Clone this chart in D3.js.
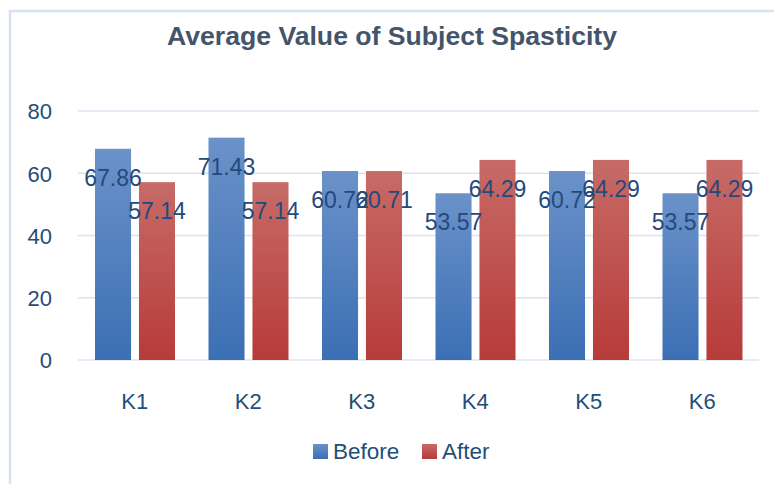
<!DOCTYPE html>
<html>
<head>
<meta charset="utf-8">
<script src="https://cdn.jsdelivr.net/npm/d3@7"></script>
<style>
  body { margin: 0; background: #fff; }
</style>
</head>
<body>
<script>
// DATA
var categories = ["K1", "K2", "K3", "K4", "K5", "K6"];
var seriesNames = ["Before", "After"];
var beforeValues = [67.86, 71.43, 60.72, 53.57, 60.72, 53.57];
var afterValues = [57.14, 57.14, 60.71, 64.29, 64.29, 64.29];
var yTicks = [0, 20, 40, 60, 80];

var svg = d3.select("body").append("svg")
  .attr("width", 774)
  .attr("height", 484);

// gradients for the bars
var defs = svg.append("defs");
var gradBlue = defs.append("linearGradient")
  .attr("id", "gradBlue")
  .attr("x1", 0).attr("y1", 0).attr("x2", 0).attr("y2", 1);
gradBlue.append("stop").attr("offset", "0%").attr("stop-color", "#6b92c9");
gradBlue.append("stop").attr("offset", "100%").attr("stop-color", "#3b6fb4");
var gradRed = defs.append("linearGradient")
  .attr("id", "gradRed")
  .attr("x1", 0).attr("y1", 0).attr("x2", 0).attr("y2", 1);
gradRed.append("stop").attr("offset", "0%").attr("stop-color", "#c76b67");
gradRed.append("stop").attr("offset", "100%").attr("stop-color", "#b73b39");
var fills = ["url(#gradBlue)", "url(#gradRed)"];

// chart frame
svg.append("rect")
  .attr("x", 10)
  .attr("y", 11)
  .attr("width", 800)
  .attr("height", 500)
  .attr("fill", "none")
  .attr("stroke", "#d6e2f2")
  .attr("stroke-width", 2.5);

// title
svg.append("text")
  .attr("x", 392)
  .attr("y", 45)
  .attr("text-anchor", "middle")
  .attr("textLength", 450)
  .attr("lengthAdjust", "spacingAndGlyphs")
  .style("font-family", "Liberation Sans")
  .style("font-size", "26px")
  .style("font-weight", 700)
  .style("fill", "#44546a")
  .text("Average Value of Subject Spasticity");

// scales
var x = d3.scaleBand()
  .domain(categories)
  .range([78, 759]);
var inner = d3.scaleBand()
  .domain(seriesNames)
  .range([17, 97])
  .paddingInner(0.18);
var y = d3.scaleLinear()
  .domain([0, 80])
  .range([360, 111]);

// gridlines
svg.append("g")
  .selectAll("line")
  .data(yTicks)
  .enter().append("line")
  .attr("x1", 78)
  .attr("x2", 759)
  .attr("y1", function(d) { return y(d); })
  .attr("y2", function(d) { return y(d); })
  .attr("stroke", "#d9e4f3")
  .attr("stroke-width", 1.5);

// y axis
var yAxis = svg.append("g")
  .attr("transform", "translate(52,0)")
  .call(d3.axisLeft(y).tickValues(yTicks).tickSize(0).tickPadding(0));
yAxis.select(".domain").remove();
yAxis.selectAll("text")
  .attr("dy", "0.36em")
  .style("font-family", "Liberation Sans")
  .style("font-size", "22px")
  .style("fill", "#1f4e79");

// x axis
var xAxis = svg.append("g")
  .attr("transform", "translate(0,409)")
  .call(d3.axisBottom(x).tickSize(0).tickPadding(0));
xAxis.select(".domain").remove();
xAxis.selectAll("text")
  .attr("dy", 0)
  .style("font-family", "Liberation Sans")
  .style("font-size", "22px")
  .style("fill", "#1f4e79");

// bars
var rows = categories.map(function(c, i) {
  return [
    {cat: c, name: "Before", value: beforeValues[i], fill: fills[0]},
    {cat: c, name: "After", value: afterValues[i], fill: fills[1]}
  ];
});
var groups = svg.selectAll(".cat")
  .data(rows)
  .enter().append("g")
  .attr("class", "cat")
  .attr("transform", function(d) { return "translate(" + x(d[0].cat) + ",0)"; });

groups.selectAll("rect")
  .data(function(d) { return d; })
  .enter().append("rect")
  .attr("x", function(d) { return inner(d.name); })
  .attr("y", function(d) { return y(d.value); })
  .attr("width", inner.bandwidth())
  .attr("height", function(d) { return y(0) - y(d.value); })
  .attr("fill", function(d) { return d.fill; });

// value labels (they overlap in K3/K5 just like the original)
groups.selectAll("text.val")
  .data(function(d) { return d; })
  .enter().append("text")
  .attr("class", "val")
  .attr("x", function(d) { return inner(d.name) + inner.bandwidth() / 2; })
  .attr("y", function(d) { return y(d.value) + 37; })
  .attr("text-anchor", "middle")
  .style("font-family", "Liberation Sans")
  .style("font-size", "23px")
  .style("fill", "#24497c")
  .text(function(d) { return d.value.toFixed(2); });

// legend
var legendX = [313, 422];
var legend = svg.selectAll(".legend")
  .data(seriesNames)
  .enter().append("g")
  .attr("class", "legend")
  .attr("transform", function(d, i) { return "translate(" + legendX[i] + ",444)"; });
legend.append("rect")
  .attr("width", 15)
  .attr("height", 15)
  .attr("fill", function(d, i) { return fills[i]; });
legend.append("text")
  .attr("x", 20)
  .attr("y", 15)
  .style("font-family", "Liberation Sans")
  .style("font-size", "22.5px")
  .style("fill", "#1f4e79")
  .text(function(d) { return d; });
</script>
</body>
</html>
